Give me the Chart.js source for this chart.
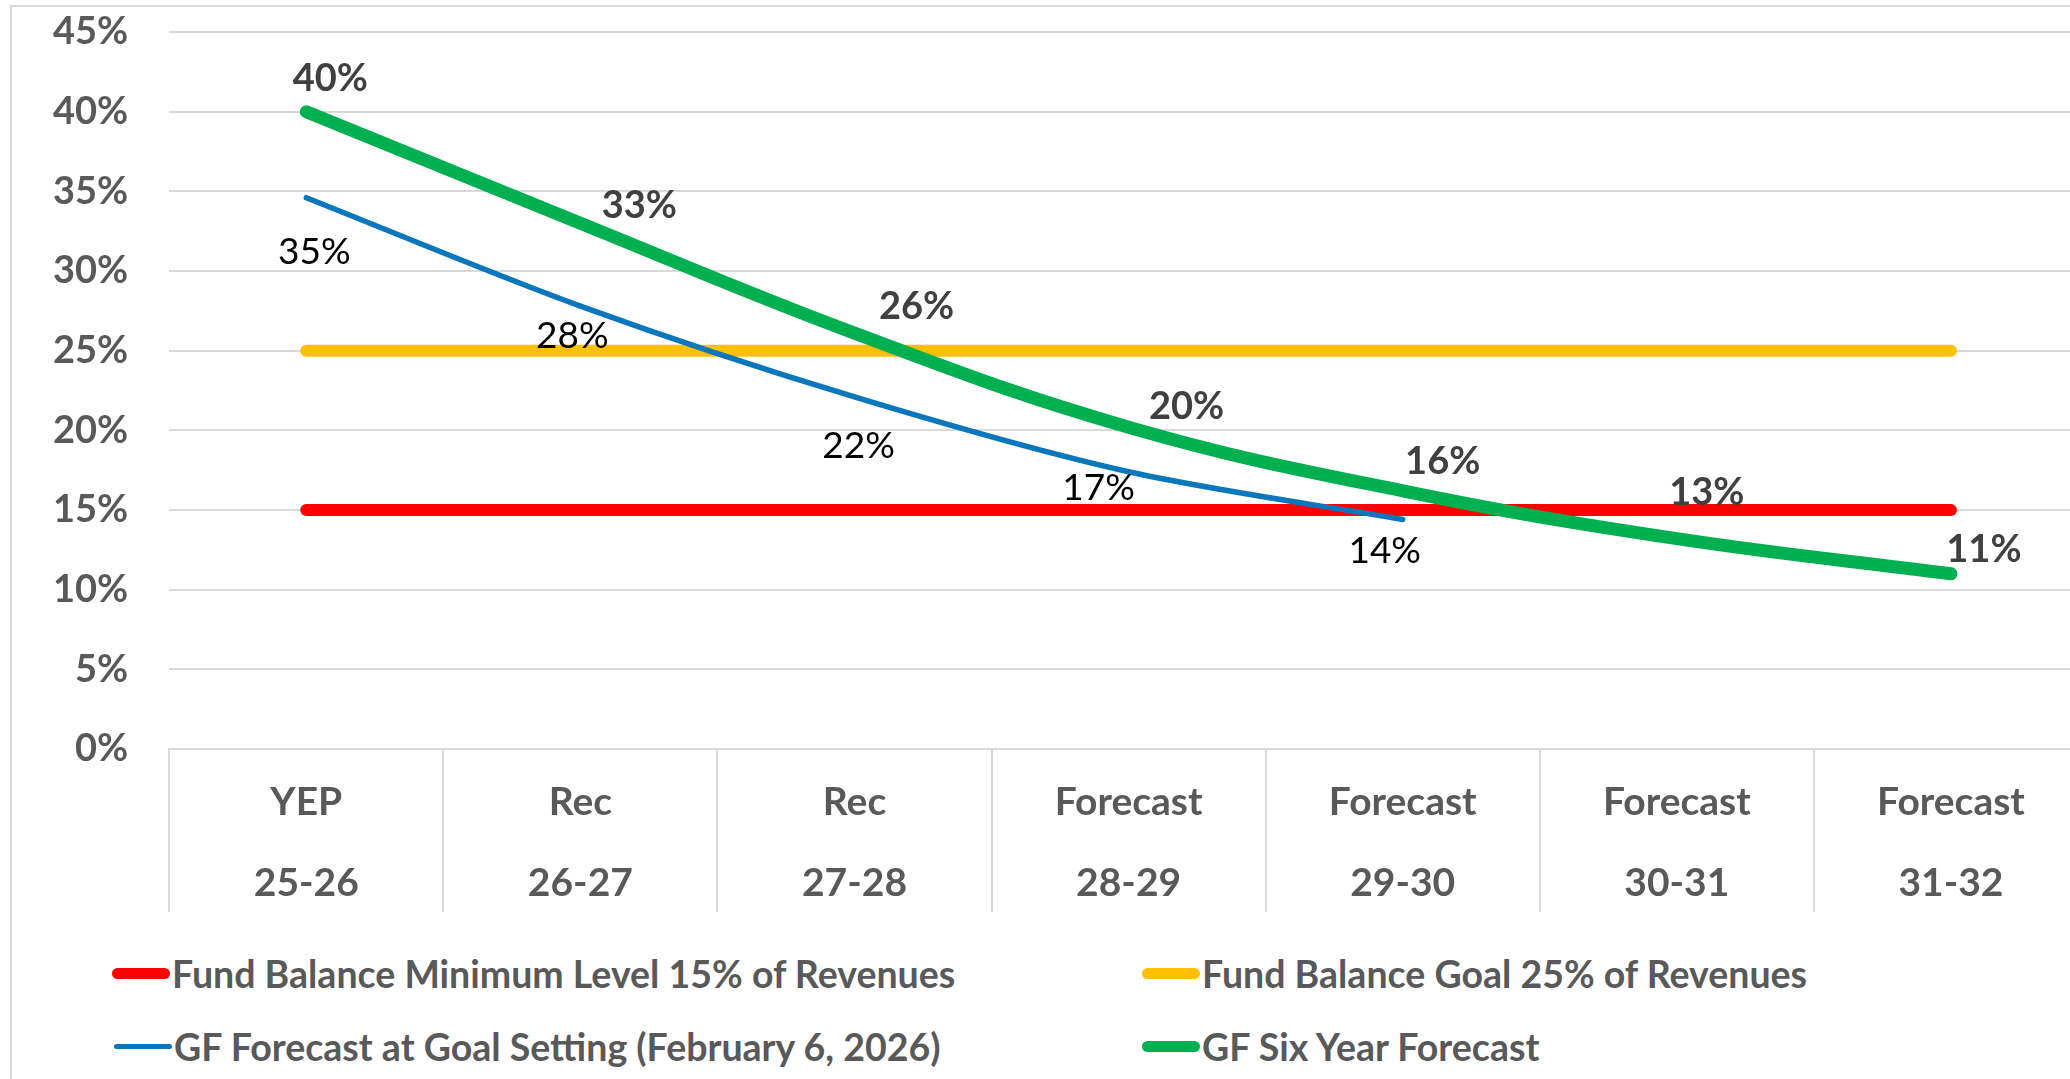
<!DOCTYPE html>
<html>
<head>
<meta charset="utf-8">
<script src="https://cdn.jsdelivr.net/npm/chart.js@4.4.1/dist/chart.umd.min.js"></script>
<style>
  html, body { margin: 0; padding: 0; background: #fff; overflow: hidden; width: 2070px; height: 1079px; }
  #frame { position: absolute; left: 10px; top: 5px; width: 2200px; height: 1200px;
           border-left: 2px solid #d9d9d9; border-top: 2px solid #d9d9d9; }
  #wrap { position: absolute; left: 0; top: 0; width: 2090px; height: 930px; }
  #legend { position: absolute; left: 0; top: 0; font-family: Lato, sans-serif; font-weight: bold;
            font-size: 37.5px; color: #595959; }
  .item { position: absolute; display: flex; align-items: center; height: 50px; white-space: nowrap; }
  .swatch { width: 58px; border-radius: 6px; margin-right: 2px; }
</style>
</head>
<body>
<div id="frame"></div>
<div id="wrap"><canvas id="fundChart" width="2090" height="930"></canvas></div>
<div id="legend"></div>
<script>
const categories = [['YEP', '25-26'], ['Rec', '26-27'], ['Rec', '27-28'], ['Forecast', '28-29'],
                    ['Forecast', '29-30'], ['Forecast', '30-31'], ['Forecast', '31-32']];
const minimumLevel = [15, 15, 15, 15, 15, 15, 15];
const goalLevel = [25, 25, 25, 25, 25, 25, 25];
const goalSettingForecast = [34.6, 27.8, 22.1, 17.4, 14.4, null, null];
const sixYearForecast = [40.0, 33.0, 26.1, 20.2, 16.2, 13.2, 11.0];
const yTicks = [0, 5, 10, 15, 20, 25, 30, 35, 40, 45];

const seriesNames = [
    'Fund Balance Minimum Level 15% of Revenues',
    'Fund Balance Goal 25% of Revenues',
    'GF Forecast at Goal Setting (February 6, 2026)',
    'GF Six Year Forecast'
];

// label offsets (px) relative to each point, hand placed like the original
const greenLabelOffsets = [[24, -33], [59, -17], [62, -26], [58, -20], [40, -29], [30, -46], [33, -24]];
const blueLabelOffsets = [[8, 54], [-8, 30], [4, 49], [-30, 16], [-18, 32]];

const FONT = 'Lato, sans-serif';
const GRID = '#d9d9d9';

const dataLabels = {
    id: 'dataLabels',
    afterDatasetsDraw(chart) {
        const ctx = chart.ctx;
        ctx.save();
        ctx.textAlign = 'center';
        ctx.textBaseline = 'middle';

        const green = chart.getDatasetMeta(3);
        ctx.font = 'bold 38px ' + FONT;
        ctx.fillStyle = '#404040';
        green.data.forEach((pt, i) => {
            const off = greenLabelOffsets[i];
            ctx.fillText(Math.round(sixYearForecast[i]) + '%', pt.x + off[0], pt.y + off[1]);
        });

        const blue = chart.getDatasetMeta(2);
        ctx.font = '37px ' + FONT;
        ctx.fillStyle = '#000000';
        blue.data.forEach((pt, i) => {
            if (goalSettingForecast[i] == null) return;
            const off = blueLabelOffsets[i];
            ctx.fillText(Math.round(goalSettingForecast[i]) + '%', pt.x + off[0], pt.y + off[1]);
        });
        ctx.restore();
    }
};

const ctx = document.getElementById('fundChart').getContext('2d');

const chart = new Chart(ctx, {
    type: 'line',
    data: {
        labels: categories,
        datasets: [
            {
                label: seriesNames[0],
                data: minimumLevel,
                borderColor: '#ff0000',
                borderWidth: 12,
                order: 4
            },
            {
                label: seriesNames[1],
                data: goalLevel,
                borderColor: '#ffc000',
                borderWidth: 12,
                order: 3
            },
            {
                label: seriesNames[2],
                data: goalSettingForecast,
                borderColor: '#0a77bd',
                borderWidth: 5.5,
                tension: 0.3,
                order: 2
            },
            {
                label: seriesNames[3],
                data: sixYearForecast,
                borderColor: '#00b050',
                borderWidth: 13,
                tension: 0.4,
                order: 1
            }
        ]
    },
    options: {
        responsive: false,
        animation: false,
        devicePixelRatio: 1,
        layout: {
            padding: { left: 12, right: 2, top: 32, bottom: 6 }
        },
        elements: {
            point: { radius: 0, hoverRadius: 0 },
            line: { borderCapStyle: 'round', borderJoinStyle: 'round', fill: false }
        },
        plugins: {
            legend: { display: false },
            tooltip: { enabled: false }
        },
        scales: {
            x: {
                offset: true,
                afterFit(scale) {
                    // labels sit between the long divider ticks
                    scale.height = 175;
                },
                grid: {
                    offset: true,
                    drawOnChartArea: false,
                    drawTicks: true,
                    tickLength: 163,
                    color: GRID,
                    lineWidth: 2
                },
                border: { display: true, color: GRID, width: 2 },
                ticks: {
                    padding: -150,
                    color: '#595959',
                    font: { family: FONT, size: 39, weight: 'bold', lineHeight: 81 / 39 },
                    maxRotation: 0,
                    autoSkip: false
                }
            },
            y: {
                min: 0,
                max: 45,
                afterBuildTicks(scale) {
                    scale.ticks = yTicks.map(v => ({ value: v }));
                },
                afterFit(scale) {
                    scale.paddingTop = 22;
                    scale.paddingBottom = 0;
                },
                grid: { color: GRID, lineWidth: 2, drawTicks: false },
                border: { display: false },
                ticks: {
                    padding: 41,
                    color: '#595959',
                    font: { family: FONT, size: 38, weight: 'bold' },
                    callback: v => v + '%'
                }
            }
        }
    },
    plugins: [dataLabels]
});

// html legend, two columns like the original
const legendColors = ['#ff0000', '#ffc000', '#0a77bd', '#00b050'];
const legendThickness = [11, 11, 5, 11];
const legendSpots = [[112, 948], [1142, 948], [114, 1021], [1142, 1021]];
const legend = document.getElementById('legend');
chart.data.datasets.forEach((ds, i) => {
    const item = document.createElement('div');
    item.className = 'item';
    item.style.left = legendSpots[i][0] + 'px';
    item.style.top = legendSpots[i][1] + 'px';
    const sw = document.createElement('span');
    sw.className = 'swatch';
    sw.style.background = legendColors[i];
    sw.style.height = legendThickness[i] + 'px';
    const txt = document.createElement('span');
    txt.textContent = ds.label;
    item.appendChild(sw);
    item.appendChild(txt);
    legend.appendChild(item);
});
</script>
</body>
</html>
